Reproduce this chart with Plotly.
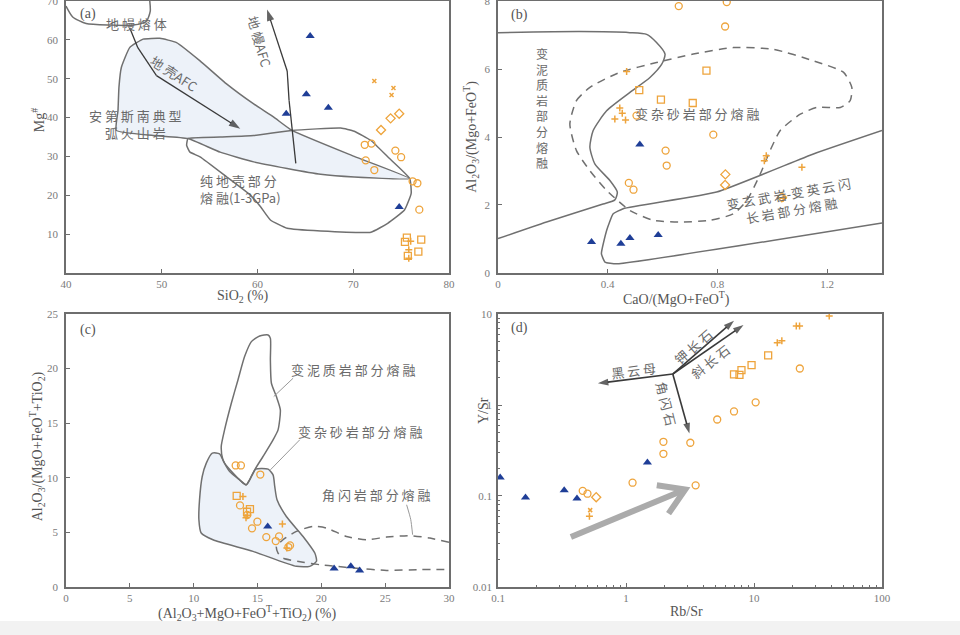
import numpy as np
import plotly.graph_objects as go

ORANGE = '#EEA43C'
BLUE = '#1F3E97'
LINE = '#707070'
DARK = '#3a3a3a'
FILL = '#EDF2F9'
TXT = '#6A6A6A'
CJK = 'Noto Sans CJK SC'
SERIF = 'Liberation Serif'

# ---------------- panel (a): SiO2 vs Mg# ----------------
a_tri_x = [65.5, 65.1, 63.0, 67.4, 74.8]
a_tri_y = [61.0, 46.0, 41.0, 42.5, 17.0]
a_cir_x = [71.2, 71.9, 71.3, 72.2, 74.4, 75.0, 76.2, 76.7, 76.9]
a_cir_y = [33.0, 33.3, 29.0, 26.5, 31.5, 29.8, 23.6, 23.1, 16.3]
a_dia_x = [72.9, 73.9, 74.8]
a_dia_y = [36.8, 39.8, 41.0]
a_xm_x = [72.2, 74.2, 74.0]
a_xm_y = [49.4, 47.6, 45.8]
a_sq_x = [75.6, 75.4, 77.1, 76.8, 75.7]
a_sq_y = [9.1, 8.0, 8.6, 5.5, 4.4]
a_cr_x = [76.0, 75.8, 75.8]
a_cr_y = [8.2, 6.0, 3.8]

andes_x = [45.25, 45.43, 45.53, 45.78, 46.65, 48.05, 49.8, 51.55, 54.0, 56.8, 59.6, 61.7, 63.6,
           70.1, 75.9, 70.1, 66.6, 63.1, 59.6, 56.1, 52.74, 49.1, 45.25]
andes_y = [36.7, 41.8, 47.8, 52.9, 58.0, 60.2, 60.4, 59.3, 54.6, 48.6, 43.5, 40.1, 36.7,
           30.0, 24.3, 24.7, 25.4, 26.9, 28.6, 31.1, 34.6, 35.4, 36.7]
crust_x = [52.74, 56.1, 59.6, 63.6, 68.7, 70.1, 71.85, 73.6, 75.9, 76.05, 75.35, 73.6, 71.85,
           66.6, 63.1, 61.35, 60.3, 59.25, 56.8, 54.0, 52.95, 52.6, 52.74]
crust_y = [34.6, 35.0, 35.4, 36.7, 37.3, 36.5, 34.1, 29.9, 24.3, 20.5, 16.2, 12.8, 10.5,
           10.8, 11.5, 13.65, 17.1, 20.05, 24.7, 29.9, 31.1, 32.85, 34.6]
mantle_x = [48.75, 48.8, 48.4, 47.0, 44.55, 42.1, 40.7, 40.0]
mantle_y = [70.0, 67.4, 64.8, 63.8, 63.8, 64.2, 65.9, 68.7]
cafc_x = [46.65, 47.5, 49.45, 58.2]
cafc_y = [63.1, 58.0, 50.8, 37.1]
mafc_x = [64.0, 63.3, 63.1, 61.0]
mafc_y = [28.2, 44.4, 52.0, 67.8]

# ---------------- panel (b): CaO/(MgO+FeOT) vs Al2O3/(MgO+FeOT) ----------------
b_tri_x = [0.341, 0.448, 0.481, 0.584, 0.517]
b_tri_y = [0.91, 0.86, 1.03, 1.12, 3.78]
b_cir_x = [0.659, 0.828, 0.834, 0.785, 0.611, 0.615, 0.477, 0.494, 0.505]
b_cir_y = [7.85, 7.25, 7.97, 4.07, 3.60, 3.16, 2.65, 2.45, 4.63]
b_dia_x = [0.829, 0.828, 1.035]
b_dia_y = [2.90, 2.59, 2.23]
b_sq_x = [0.515, 0.594, 0.710, 0.760]
b_sq_y = [5.38, 5.10, 5.00, 5.95]
b_cr_x = [0.469, 0.444, 0.453, 0.426, 0.465, 0.978, 0.971, 1.108, 1.040]
b_cr_y = [5.93, 4.85, 4.70, 4.53, 4.50, 3.45, 3.30, 3.11, 2.20]

pel_b_x = [0.0, 0.298, 0.481, 0.542, 0.578, 0.609, 0.597, 0.554, 0.481, 0.396, 0.347, 0.335,
           0.353, 0.408, 0.435, 0.426, 0.383, 0.177, 0.0]
pel_b_y = [7.07, 7.10, 7.07, 7.02, 6.78, 6.44, 6.14, 5.75, 5.31, 4.77, 4.19, 3.70,
           3.21, 2.72, 2.38, 2.15, 2.03, 1.50, 1.01]
gw_b_x = [0.262, 0.286, 0.335, 0.444, 0.578, 0.712, 0.858, 1.004, 1.150, 1.260, 1.290, 1.284,
          1.248, 1.163, 1.102, 1.029, 0.992, 0.956, 0.907, 0.858, 0.773, 0.663, 0.566, 0.481,
          0.396, 0.335, 0.286, 0.262]
gw_b_y = [4.38, 5.07, 5.46, 5.90, 6.19, 6.44, 6.63, 6.58, 6.24, 5.90, 5.46, 5.07,
          4.87, 4.87, 4.67, 4.19, 3.60, 2.91, 2.13, 1.74, 1.55, 1.50, 1.55, 1.84,
          2.43, 3.01, 3.60, 4.38]
amp_b_x = [1.4, 1.150, 0.797, 0.4565, 0.42, 0.396, 0.377, 0.39, 0.432, 1.4]
amp_b_y = [4.19, 3.50, 2.38, 1.89, 1.74, 1.25, 0.57, 0.32, 0.27, 1.47]

# ---------------- panel (c) ----------------
c_cir_x = [13.29, 13.70, 15.22, 13.63, 14.99, 14.57, 15.69, 16.43, 16.69, 17.42, 17.55, 14.2]
c_cir_y = [11.13, 11.13, 10.30, 7.47, 5.98, 5.37, 4.57, 4.21, 4.63, 3.66, 3.81, 6.6]
c_sq_x = [13.37, 14.41, 14.18]
c_sq_y = [8.35, 7.13, 6.89]
c_cr_x = [13.86, 14.2, 14.1, 16.95, 17.3]
c_cr_y = [8.29, 6.52, 6.34, 5.76, 3.57]
c_tri_x = [15.8, 21.0, 22.31, 23.0]
c_tri_y = [5.55, 1.70, 1.89, 1.52]

pel_c_x = [15.83, 16.01, 16.01, 16.09, 16.48, 16.79, 16.61, 16.22, 15.43, 14.78, 14.39, 14.12,
           13.60, 12.82, 12.29, 12.16, 12.42, 12.95, 13.47, 13.99, 14.52, 15.17, 15.83]
pel_c_y = [23.08, 22.77, 20.79, 18.66, 17.44, 16.22, 14.39, 13.48, 11.95, 10.73, 9.82, 9.36,
           9.82, 10.58, 11.65, 12.87, 14.39, 16.83, 18.96, 21.10, 22.47, 22.99, 23.08]
gw_c_x = [11.46, 12.03, 12.42, 13.08, 13.73, 14.12, 14.52, 14.86, 15.83, 16.22, 16.35, 16.53,
          17.26, 18.57, 19.49, 19.62, 19.09, 18.05, 14.65, 11.51, 10.59, 10.41, 10.46, 10.67,
          10.99, 11.46]
gw_c_y = [12.26, 12.20, 11.34, 10.43, 9.66, 9.36, 10.12, 10.79, 10.79, 10.27, 9.21, 7.99,
          6.46, 4.63, 3.11, 2.35, 1.89, 1.89, 3.26, 4.33, 4.94, 6.16, 7.99, 10.12,
          11.34, 12.26]
amp_c_x = [30.0, 28.51, 26.94, 25.11, 23.54, 21.97, 20.40, 19.36, 18.05, 17.00, 16.48, 16.61,
           17.00, 18.57, 19.88, 21.19, 22.50, 25.11, 27.73, 30.0]
amp_c_y = [4.09, 4.48, 4.70, 4.57, 4.33, 4.63, 5.40, 5.55, 5.09, 4.33, 3.72, 3.11,
           2.65, 2.26, 2.04, 1.89, 1.74, 1.52, 1.59, 1.59]
lead1_x = [17.79, 16.27]
lead1_y = [19.12, 17.44]
lead2_x = [18.31, 16.01]
lead2_y = [13.48, 10.73]
lead3_x = [26.68, 27.0, 27.15]
lead3_y = [7.53, 6.2, 4.79]

# ---------------- panel (d): Rb/Sr vs Y/Sr ----------------
d_tri_x = [0.104, 0.164, 0.329, 0.414, 1.47]
d_tri_y = [0.160, 0.096, 0.116, 0.094, 0.233]
d_cir_x = [0.459, 0.50, 1.125, 1.96, 1.96, 3.18, 3.5, 5.16, 6.98, 10.3, 22.8]
d_cir_y = [0.114, 0.106, 0.140, 0.394, 0.291, 0.385, 0.131, 0.693, 0.849, 1.07, 2.52]
d_dia_x = [0.585]
d_dia_y = [0.097]
d_sq_x = [6.98, 7.7, 7.98, 9.57, 12.9]
d_sq_y = [2.17, 2.14, 2.42, 2.75, 3.51]
d_xm_x = [0.525]
d_xm_y = [0.070]
d_cr_x = [0.518, 15.2, 16.5, 21.4, 22.7, 38.7]
d_cr_y = [0.060, 4.84, 5.09, 7.38, 7.38, 9.5]

vec_origin = (2.32, 2.19)
vec_bio = (0.603, 1.73)
vec_kfs = (6.98, 8.45)
vec_pl = (8.28, 7.57)
vec_amp = (3.13, 0.486)
trend_x = [0.371, 2.90]
trend_y = [0.0355, 0.118]
chev_x = [1.74, 2.90, 2.15]
chev_y = [0.1315, 0.118, 0.064]

fig = go.Figure()
AX = [('x', 'y'), ('x2', 'y2'), ('x3', 'y3'), ('x4', 'y4')]


def add_line(xs, ys, p, color=LINE, width=1.5, dash='solid', fill=None, smooth=0.6):
    xa, ya = AX[p]
    fig.add_trace(go.Scatter(x=xs, y=ys, xaxis=xa, yaxis=ya, mode='lines',
                             line=dict(color=color, width=width, dash=dash,
                                       shape='spline' if smooth else 'linear', smoothing=smooth or None),
                             fill='toself' if fill else None, fillcolor=fill,
                             hoverinfo='skip', showlegend=False))


def add_arrow(xs, ys, p, color=DARK, width=1.3, head=12):
    xa, ya = AX[p]
    sizes = [0] * (len(xs) - 1) + [head]
    fig.add_trace(go.Scatter(x=xs, y=ys, xaxis=xa, yaxis=ya, mode='lines+markers',
                             line=dict(color=color, width=width),
                             marker=dict(symbol='arrow', size=sizes, angleref='previous',
                                         color='#222222', line=dict(width=0)),
                             hoverinfo='skip', showlegend=False))


def add_pts(xs, ys, p, symbol, size, color=ORANGE, lw=1.5):
    xa, ya = AX[p]
    fig.add_trace(go.Scatter(x=xs, y=ys, xaxis=xa, yaxis=ya, mode='markers',
                             marker=dict(symbol=symbol, size=size, color=color,
                                         line=dict(width=lw, color=color)),
                             showlegend=False))


# panel a shapes
add_line(andes_x, andes_y, 0, fill=FILL, smooth=0.4)
add_line(crust_x, crust_y, 0, smooth=0.4)
add_line(mantle_x, mantle_y, 0)
add_arrow(cafc_x, cafc_y, 0)
add_arrow(mafc_x, mafc_y, 0)
# panel b shapes
add_line(pel_b_x, pel_b_y, 1)
add_line(gw_b_x, gw_b_y, 1, dash='8px,6px')
add_line(amp_b_x, amp_b_y, 1, smooth=0.4)
# panel c shapes
add_line(gw_c_x, gw_c_y, 2, fill=FILL)
add_line(pel_c_x, pel_c_y, 2)
add_line(amp_c_x, amp_c_y, 2, dash='8px,6px')
for lx, ly in [(lead1_x, lead1_y), (lead2_x, lead2_y), (lead3_x, lead3_y)]:
    add_line(lx, ly, 2, color='#9a9a9a', width=1)
# panel d vectors
for v in [vec_bio, vec_kfs, vec_pl, vec_amp]:
    add_arrow([vec_origin[0], v[0]], [vec_origin[1], v[1]], 3, width=1.6, head=11)
fig.add_trace(go.Scatter(x=trend_x, y=trend_y, xaxis='x4', yaxis='y4', mode='lines',
                         line=dict(color='#ABABAB', width=6), hoverinfo='skip', showlegend=False))
fig.add_trace(go.Scatter(x=chev_x, y=chev_y, xaxis='x4', yaxis='y4', mode='lines',
                         line=dict(color='#ABABAB', width=6), hoverinfo='skip', showlegend=False))

# points
sets = [
    (0, a_cir_x, a_cir_y, a_dia_x, a_dia_y, a_sq_x, a_sq_y, a_xm_x, a_xm_y, a_cr_x, a_cr_y, a_tri_x, a_tri_y),
    (1, b_cir_x, b_cir_y, b_dia_x, b_dia_y, b_sq_x, b_sq_y, [], [], b_cr_x, b_cr_y, b_tri_x, b_tri_y),
    (2, c_cir_x, c_cir_y, [], [], c_sq_x, c_sq_y, [], [], c_cr_x, c_cr_y, c_tri_x, c_tri_y),
    (3, d_cir_x, d_cir_y, d_dia_x, d_dia_y, d_sq_x, d_sq_y, d_xm_x, d_xm_y, d_cr_x, d_cr_y, d_tri_x, d_tri_y),
]
for p, cx, cy, dx, dy, sx, sy, xx, xy, rx, ry, tx, ty in sets:
    add_pts(cx, cy, p, 'circle-open', 7, lw=1.3)
    if dx:
        add_pts(dx, dy, p, 'diamond-open', 7, lw=1.3)
    add_pts(sx, sy, p, 'square-open', 7, lw=1.3)
    if xx:
        add_pts(xx, xy, p, 'x-thin-open', 4, lw=1.5)
    add_pts(rx, ry, p, 'cross-thin-open', 5, lw=1.5)
    add_pts(tx, ty, p, 'triangle-up', 8, color=BLUE, lw=0)


def sp(s):
    return ' '.join(s)


ann = []


def label(text, x, y, p, size=13, angle=0, align='center', xanchor='center', font=CJK, color=TXT):
    xa, ya = AX[p]
    ann.append(dict(text=text, x=x, y=y, xref=xa, yref=ya, showarrow=False, textangle=angle,
                    align=align, xanchor=xanchor, yanchor='middle',
                    font=dict(family=font, size=size, color=color)))


# panel a labels
label('(a)', 42.3, 66.6, 0, size=14, font=SERIF, color='#555')
label(sp('地幔熔体'), 47.4, 64.3, 0)
label(sp('地壳') + 'AFC', 51.3, 51.4, 0, angle=33)
label(sp('地幔') + 'AFC', 60.2, 59.5, 0, angle=74)
label(sp('安第斯南典型') + '<br>' + sp('弧火山岩'), 47.3, 38.3, 0)
label(sp('纯地壳部分') + '<br>' + sp('熔融') + '(1-3GPa)', 53.8, 21.6, 0, align='left', xanchor='left')
# panel b labels
label('(b)', 0.077, 7.6, 1, size=14, font=SERIF, color='#555')
label('<br>'.join('变泥质岩部分熔融'), 0.162, 4.85, 1, size=12)
label(sp('变杂砂岩部分熔融'), 0.727, 4.70, 1)
label(sp('变玄武岩') + '-' + sp('变英云闪') + '<br>' + sp('长岩部分熔融'), 1.065, 2.10, 1, angle=-10)
# panel c labels
label('(c)', 1.7, 23.5, 2, size=14, font=SERIF, color='#555')
label(sp('变泥质岩部分熔融'), 22.5, 19.9, 2)
label(sp('变杂砂岩部分熔融'), 23.0, 14.2, 2)
label(sp('角闪岩部分熔融'), 24.3, 8.45, 2)
# panel d labels
label('(d)', np.log10(0.148), np.log10(7.0), 3, size=14, font=SERIF, color='#555')
label(sp('黑云母'), np.log10(1.14), np.log10(2.42), 3, angle=-7)
label(sp('钾长石'), np.log10(3.38), np.log10(4.37), 3, angle=-41)
label(sp('斜长石'), np.log10(4.57), np.log10(2.99), 3, angle=-38)
label(sp('角闪石'), np.log10(2.06), np.log10(1.04), 3, angle=76)


def title(text, x, y, angle=0):
    ann.append(dict(text=text, x=x, y=y, xref='paper', yref='paper', showarrow=False,
                    textangle=angle, xanchor='center', yanchor='middle',
                    font=dict(family=SERIF, size=14, color='#555')))


title('SiO<sub>2</sub> (%)', 0.2528, 0.533)
title('Mg<sup>#</sup>', 0.0399, 0.811, -90)
title('CaO/(MgO+FeO<sup>T</sup>)', 0.7049, 0.530)
title('Al<sub>2</sub>O<sub>3</sub>/(Mgo+FeO<sup>T</sup>)', 0.4913, 0.784, -90)
title('(Al<sub>2</sub>O<sub>3</sub>+MgO+FeO<sup>T</sup>+TiO<sub>2</sub>) (%)', 0.257, 0.035)
title('Al<sub>2</sub>O<sub>3</sub>/(MgO+FeO<sup>T</sup>+TiO<sub>2</sub>)', 0.0382, 0.2966, -90)
title('Rb/Sr', 0.7146, 0.0367)
title('Y/Sr', 0.503, 0.354, -90)


def axstyle(**kw):
    d = dict(showline=True, linecolor='#6E6E6E', linewidth=1.5, mirror=True, ticks='inside',
             ticklen=4, tickwidth=1, tickcolor='#6E6E6E', showgrid=False, zeroline=False,
             automargin=False, ticklabeloverflow='allow',
             tickfont=dict(family=SERIF, size=11, color='#7A7A7A'))
    d.update(kw)
    return d


XL = [0.06875, 0.4677]
XR = [0.51875, 0.91875]
YT = [0.5701, 0.9984]
YB = [0.0756, 0.5055]
minor_vals = [m * 10.0 ** e for e in range(-2, 3) for m in range(2, 10)]

fig.update_layout(
    width=960, height=635, margin=dict(l=0, r=0, t=0, b=0, autoexpand=False),
    paper_bgcolor='white', plot_bgcolor='white', showlegend=False,
    xaxis=axstyle(domain=XL, range=[40, 80], anchor='y', tickvals=[40, 50, 60, 70, 80]),
    yaxis=axstyle(domain=YT, range=[0, 70], anchor='x', tickvals=[10, 20, 30, 40, 50, 60, 70],
                  ticklabelstandoff=4),
    xaxis2=axstyle(domain=XR, range=[0, 1.4], anchor='y2', tickvals=[0, 0.4, 0.8, 1.2],
                   ticktext=['0', '0.4', '0.8', '1.2']),
    yaxis2=axstyle(domain=YT, range=[0, 8], anchor='x2', tickvals=[0, 2, 4, 6, 8], ticklabelstandoff=4),
    xaxis3=axstyle(domain=XL, range=[0, 30], anchor='y3', tickvals=[0, 5, 10, 15, 20, 25, 30]),
    yaxis3=axstyle(domain=YB, range=[0, 25], anchor='x3', tickvals=[0, 5, 10, 15, 20, 25],
                   ticklabelstandoff=4),
    xaxis4=axstyle(domain=XR, type='log', range=[-1, 2], anchor='y4', tickvals=[0.1, 1, 10, 100],
                   ticktext=['0.1', '1', '10', '100'],
                   minor=dict(tickvals=minor_vals, ticks='inside', ticklen=2, tickcolor='#6E6E6E')),
    yaxis4=axstyle(domain=YB, type='log', range=[-2, 1], anchor='x4', tickvals=[0.01, 0.1, 1, 10],
                   ticktext=['0.01', '0.1', '1', '10'], ticklabelstandoff=2,
                   minor=dict(tickvals=minor_vals, ticks='inside', ticklen=2, tickcolor='#6E6E6E')),
    annotations=ann,
    shapes=[dict(type='rect', xref='paper', yref='paper', x0=0, x1=1, y0=0, y1=0.022,
                 fillcolor='#F2F2F2', line=dict(width=0), layer='below')],
)

fig.write_html('out.html', config={'displayModeBar': False},
               post_script="document.body.style.margin='0px';document.body.style.overflow='hidden';")
